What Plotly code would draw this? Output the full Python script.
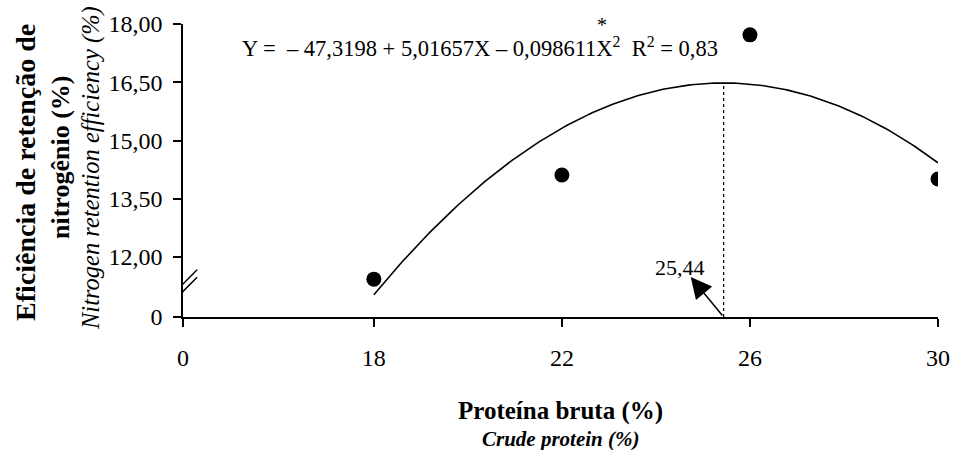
import numpy as np
import plotly.graph_objects as go

# Data
protein = [18, 22, 26, 30]
retention = [11.43, 14.11, 17.72, 14.01]
coef = [-47.3198, 5.01657, -0.098611]   # regression coefficients shown in chart
x_opt = 25.44
y_opt = 16.48

x_tick_vals = [13.94, 18, 22, 26, 30]
x_tick_text = ["0", "18", "22", "26", "30"]
y_tick_vals = [10.455, 12, 13.5, 15, 16.5, 18]
y_tick_text = ["0", "12,00", "13,50", "15,00", "16,50", "18,00"]

x_range = [13.94, 30.0]
y_range = [10.455, 18.0]

FONT = "Liberation Serif, Times New Roman, serif"

xc = np.linspace(18, 30, 200)
yc = coef[0] + coef[1] * xc + coef[2] * xc ** 2

fig = go.Figure()
fig.add_trace(go.Scatter(x=xc, y=yc, mode="lines",
                         line=dict(color="black", width=1.6), hoverinfo="skip"))
fig.add_trace(go.Scatter(x=protein, y=retention, mode="markers",
                         marker=dict(color="black", size=15)))
# dotted vertical line at optimum
fig.add_trace(go.Scatter(x=[x_opt, x_opt], y=[y_range[0], y_opt], mode="lines",
                         line=dict(color="black", width=1.2, dash="dot")))

# axis break marks
for dy in (0.0, 0.19):
    fig.add_shape(type="line", xref="x", yref="y",
                  x0=13.77, x1=14.24, y0=10.91 + dy, y1=11.48 + dy,
                  line=dict(color="black", width=1.5))

# arrow to optimum
fig.add_annotation(x=24.74, y=11.485, ax=x_opt, ay=y_range[0],
                   xref="x", yref="y", axref="x", ayref="y",
                   showarrow=True, arrowhead=2, arrowsize=2.8, arrowwidth=1.5,
                   arrowcolor="black", text="")
fig.add_annotation(x=24.51, y=11.74, xref="x", yref="y", showarrow=False,
                   text="25,44", font=dict(family=FONT, size=22, color="black"))

# equation
fig.add_annotation(x=15.15, y=17.41, xref="x", yref="y", xanchor="left",
                   yanchor="middle", showarrow=False,
                   text="Y =  \u2013 47,3198 + 5,01657X \u2013 0,098611X<sup>2</sup>  R<sup>2</sup> = 0,83",
                   font=dict(family=FONT, size=22.5, color="black"))
fig.add_annotation(x=22.85, y=17.97, xref="x", yref="y", showarrow=False,
                   xanchor="center", yanchor="middle",
                   text="*", font=dict(family=FONT, size=20, color="black"))

# layout in page pixels (body margin removed below)
L, W, T, H = 183, 755, 24, 293
def px_x(p):
    return (p - L) / W
def px_y(p):
    return (T + H - p) / H

def title(px, py, text, size):
    fig.add_annotation(x=px_x(px), y=px_y(py), xref="paper", yref="paper",
                       xanchor="center", yanchor="middle",
                       showarrow=False, textangle=-90, text=text,
                       font=dict(family=FONT, size=size, color="black"))

title(25, 173, "<b>Eficiência de retenção de</b>", 28)
title(60, 158, "<b>nitrogênio (%)</b>", 26)
title(91, 168, "<i>Nitrogen retention efficiency (%)</i>", 24.5)

# x-axis titles
fig.add_annotation(x=0.5, y=px_y(411), xref="paper", yref="paper",
                   xanchor="center", yanchor="middle",
                   showarrow=False, text="<b>Proteína bruta (%)</b>",
                   font=dict(family=FONT, size=25, color="black"))
fig.add_annotation(x=0.5, y=px_y(439), xref="paper", yref="paper",
                   xanchor="center", yanchor="middle",
                   showarrow=False, text="<b><i>Crude protein (%)</i></b>",
                   font=dict(family=FONT, size=21, color="black"))

fig.update_layout(
    width=954, height=450,
    margin=dict(l=L, r=954 - L - W, t=T, b=450 - T - H),
    paper_bgcolor="white", plot_bgcolor="white",
    showlegend=False,
    font=dict(family=FONT, size=24, color="black"),
)
fig.update_xaxes(range=x_range, tickmode="array", tickvals=x_tick_vals,
                 ticktext=x_tick_text, showgrid=False, zeroline=False,
                 showline=True, linecolor="black", linewidth=1.5,
                 ticks="outside", ticklen=8, tickwidth=1.5, tickcolor="black",
                 ticklabelstandoff=10, automargin=False,
                 tickfont=dict(family=FONT, size=24, color="black"))
fig.update_yaxes(range=y_range, tickmode="array", tickvals=y_tick_vals,
                 ticktext=y_tick_text, showgrid=False, zeroline=False,
                 showline=True, linecolor="black", linewidth=1.5,
                 ticks="outside", ticklen=8, tickwidth=1.5, tickcolor="black",
                 ticklabelstandoff=6, automargin=False,
                 tickfont=dict(family=FONT, size=24, color="black"))

fig.write_html("out.html", config={"displayModeBar": False},
               post_script="document.body.style.margin='0';document.body.style.overflow='hidden';")
